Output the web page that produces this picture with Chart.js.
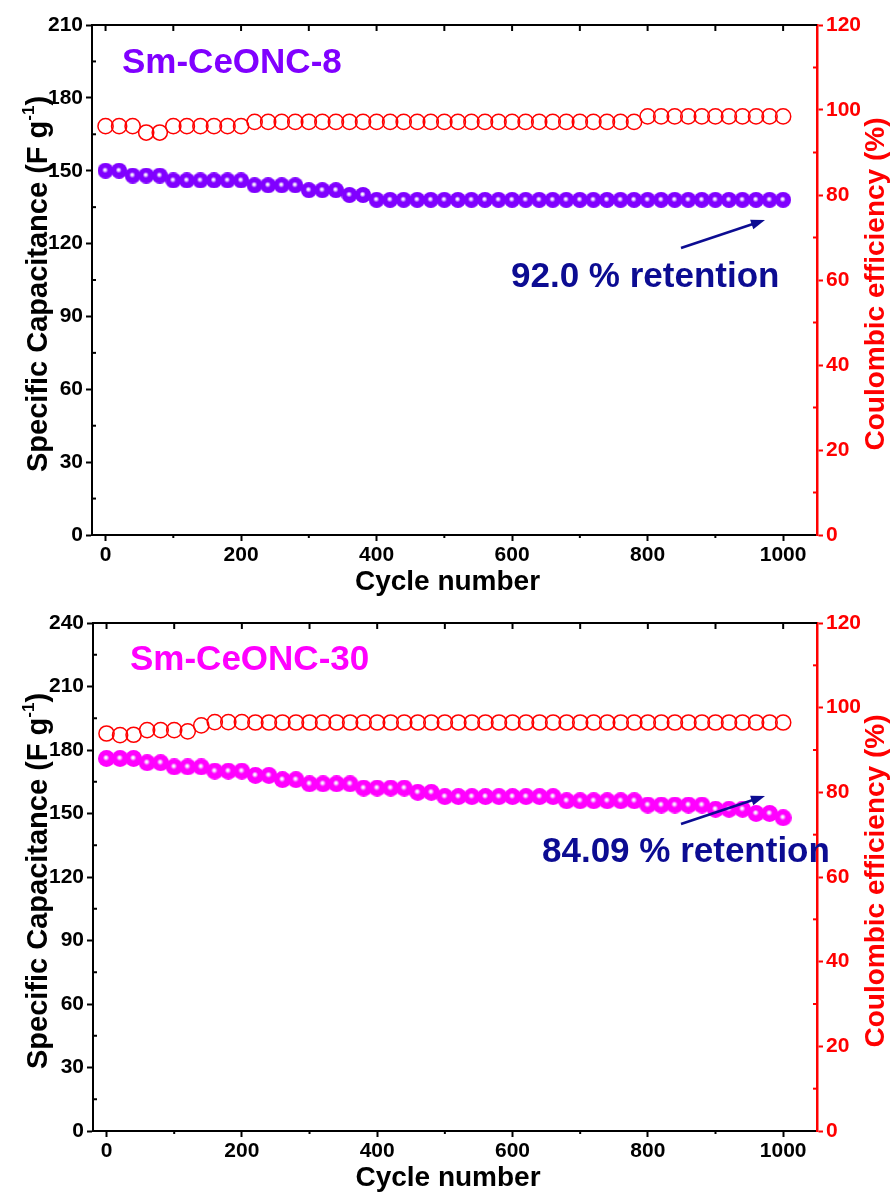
<!DOCTYPE html>
<html>
<head>
<meta charset="utf-8">
<script src="https://cdn.jsdelivr.net/npm/chart.js@4.4.1/dist/chart.umd.min.js"></script>
<style>
  html, body { margin: 0; padding: 0; background: #fff; }
  .panel { position: absolute; left: 0; width: 896px; }
  #p1 { top: 0; height: 596px; }
  #p2 { top: 596px; height: 597px; }
</style>
</head>
<body>
<div class="panel" id="p1"><canvas id="c1" width="896" height="596"></canvas></div>
<div class="panel" id="p2"><canvas id="c2" width="896" height="597"></canvas></div>
<script>
// ciclos (cada 20)
const cycles = [0,20,40,60,80,100,120,140,160,180,200,220,240,260,280,300,320,340,360,380,
  400,420,440,460,480,500,520,540,560,580,600,620,640,660,680,700,720,740,760,780,
  800,820,840,860,880,900,920,940,960,980,1000];

// Sm-CeONC-8
const cap8 = [150,150,148,148,148,146,146,146,146,146,146,144,144,144,144,142,142,142,140,140,
  138,138,138,138,138,138,138,138,138,138,138,138,138,138,138,138,138,138,138,138,
  138,138,138,138,138,138,138,138,138,138,138];
const ce8 = [96.2,96.2,96.2,94.7,94.7,96.2,96.2,96.2,96.2,96.2,96.2,97.2,97.2,97.2,97.2,97.2,97.2,97.2,97.2,97.2,
  97.2,97.2,97.2,97.2,97.2,97.2,97.2,97.2,97.2,97.2,97.2,97.2,97.2,97.2,97.2,97.2,97.2,97.2,97.2,97.2,
  98.5,98.5,98.5,98.5,98.5,98.5,98.5,98.5,98.5,98.5,98.5];

// Sm-CeONC-30
const cap30 = [176,176,176,174,174,172,172,172,170,170,170,168,168,166,166,164,164,164,164,162,
  162,162,162,160,160,158,158,158,158,158,158,158,158,158,156,156,156,156,156,156,
  154,154,154,154,154,152,152,152,150,150,148];
const ce30 = [93.9,93.5,93.6,94.7,94.7,94.7,94.4,95.8,96.6,96.6,96.6,96.5,96.5,96.5,96.5,96.5,96.5,96.5,96.5,96.5,
  96.5,96.5,96.5,96.5,96.5,96.5,96.5,96.5,96.5,96.5,96.5,96.5,96.5,96.5,96.5,96.5,96.5,96.5,96.5,96.5,
  96.5,96.5,96.5,96.5,96.5,96.5,96.5,96.5,96.5,96.5,96.5];

// ticks
const xTicks = [0,200,400,600,800,1000];
const yTicks8 = [0,30,60,90,120,150,180,210];
const yTicks30 = [0,30,60,90,120,150,180,210,240];
const ceTicks = [0,20,40,60,80,100,120];

const FONT = "'Liberation Sans', Arial, sans-serif";
Chart.defaults.font.family = FONT;

function esfera(color, d){
  const c = document.createElement("canvas");
  c.width = d; c.height = d;
  const g = c.getContext("2d");
  const r = d/2;
  const grad = g.createRadialGradient(r*0.92, r*0.88, 0, r, r, r);
  grad.addColorStop(0, "#ffffff");
  grad.addColorStop(0.12, "#f6ecff");
  grad.addColorStop(0.38, color);
  grad.addColorStop(1, color);
  g.fillStyle = grad;
  g.beginPath(); g.arc(r, r, r, 0, Math.PI*2); g.fill();
  return c;
}

function crearGrafica(id, cfg){
  const decor = {
    id: "decor",
    afterDraw(chart){
      const ctx = chart.ctx;
      const a = chart.chartArea;
      const x = chart.scales.x, y = chart.scales.y, y2 = chart.scales.y2;
      ctx.save();
      // marco superior
      ctx.strokeStyle = "#000"; ctx.lineWidth = 2;
      ctx.beginPath(); ctx.moveTo(a.left-1, a.top); ctx.lineTo(a.right, a.top); ctx.stroke();
      // ticks arriba (hacia dentro) y menores abajo
      for(let v=0; v<=1000; v+=100){
        const px = x.getPixelForValue(v);
        ctx.beginPath(); ctx.moveTo(px, a.top); ctx.lineTo(px, a.top+6); ctx.stroke();
        if(v % 200 !== 0){
          ctx.beginPath(); ctx.moveTo(px, a.bottom); ctx.lineTo(px, a.bottom+3); ctx.stroke();
        }
      }
      // menores eje izquierdo
      for(let i=0; i<cfg.yTicks.length-1; i++){
        const py = y.getPixelForValue((cfg.yTicks[i]+cfg.yTicks[i+1])/2);
        ctx.beginPath(); ctx.moveTo(a.left, py); ctx.lineTo(a.left+4, py); ctx.stroke();
      }
      // menores eje derecho
      ctx.strokeStyle = "#ff0000";
      for(let i=0; i<ceTicks.length-1; i++){
        const py = y2.getPixelForValue((ceTicks[i]+ceTicks[i+1])/2);
        ctx.beginPath(); ctx.moveTo(a.right, py); ctx.lineTo(a.right-4, py); ctx.stroke();
      }

      // titulo de la muestra
      ctx.fillStyle = cfg.color;
      ctx.font = "bold 35px " + FONT;
      ctx.textAlign = "left"; ctx.textBaseline = "alphabetic";
      ctx.fillText(cfg.titulo, cfg.tituloPos[0], cfg.tituloPos[1]);

      // retencion + flecha
      const navy = "#0c0c92";
      ctx.fillStyle = navy;
      ctx.font = "bold 35px " + FONT;
      ctx.fillText(cfg.retencion, cfg.retPos[0], cfg.retPos[1]);
      const [x0, y0, x1, y1] = cfg.flecha;
      const ang = Math.atan2(y1-y0, x1-x0);
      ctx.strokeStyle = navy; ctx.lineWidth = 2.5;
      ctx.beginPath(); ctx.moveTo(x0, y0); ctx.lineTo(x1 - 8*Math.cos(ang), y1 - 8*Math.sin(ang)); ctx.stroke();
      ctx.beginPath();
      ctx.moveTo(x1, y1);
      ctx.lineTo(x1 - 14*Math.cos(ang) + 5*Math.sin(ang), y1 - 14*Math.sin(ang) - 5*Math.cos(ang));
      ctx.lineTo(x1 - 14*Math.cos(ang) - 5*Math.sin(ang), y1 - 14*Math.sin(ang) + 5*Math.cos(ang));
      ctx.closePath(); ctx.fill();

      // titulos de ejes
      const mid = (a.top + a.bottom)/2 + 4;
      ctx.fillStyle = "#000";
      ctx.font = "bold 28px " + FONT;
      ctx.textAlign = "center";
      ctx.fillText("Cycle number", (a.left + a.right)/2 - 7, a.bottom + 55);

      // izquierdo con superindice
      ctx.save();
      ctx.translate(47, mid);
      ctx.rotate(-Math.PI/2);
      ctx.textAlign = "left";
      const f1 = "bold 29px " + FONT, f2 = "bold 17px " + FONT;
      ctx.font = f1;
      const t1 = "Specific Capacitance (F g", t3 = ")";
      const w1 = ctx.measureText(t1).width, w3 = ctx.measureText(t3).width;
      ctx.font = f2;
      const w2 = ctx.measureText("-1").width;
      let s = -(w1 + w2 + w3)/2;
      ctx.font = f1; ctx.fillText(t1, s, 0); s += w1;
      ctx.font = f2; ctx.fillText("-1", s, -13); s += w2;
      ctx.font = f1; ctx.fillText(t3, s, 0);
      ctx.restore();

      // derecho
      ctx.save();
      ctx.translate(884, mid);
      ctx.rotate(-Math.PI/2);
      ctx.fillStyle = "#ff0000";
      ctx.font = "bold 28px " + FONT;
      ctx.textAlign = "center";
      ctx.fillText("Coulombic efficiency (%)", 0, 0);
      ctx.restore();

      ctx.restore();
    }
  };

  const tickFont = { size: 21, weight: "bold", family: FONT };
  const plain = v => String(v);

  return new Chart(document.getElementById(id).getContext("2d"), {
    type: "line",
    data: {
      datasets: [
        {
          label: "capacitance",
          data: cycles.map((c,i)=>({x:c, y:cfg.cap[i]})),
          yAxisID: "y",
          showLine: false,
          pointStyle: esfera(cfg.color, cfg.d),
          pointRadius: cfg.d/2
        },
        {
          label: "efficiency",
          data: cycles.map((c,i)=>({x:c, y:cfg.ce[i]})),
          yAxisID: "y2",
          showLine: false,
          pointStyle: "circle",
          pointRadius: 7.6,
          pointBorderWidth: 1.5,
          pointBorderColor: "#ff0000",
          pointBackgroundColor: "rgba(255,255,255,0)"
        }
      ]
    },
    options: {
      responsive: false,
      animation: false,
      events: [],
      layout: { padding: { top: cfg.top, left: 0, right: 0, bottom: 0 } },
      plugins: { legend: { display: false }, tooltip: { enabled: false } },
      scales: {
        x: {
          type: "linear", min: -20, max: 1050,
          afterBuildTicks: sc => { sc.ticks = xTicks.map(v=>({value:v})); },
          afterFit: sc => { sc.height = cfg.xH; },
          ticks: { color: "#000", font: tickFont, padding: 2, maxRotation: 0, callback: plain },
          grid: { drawOnChartArea: false, tickLength: 6, tickWidth: 2, tickColor: "#000" },
          border: { color: "#000", width: 2 }
        },
        y: {
          position: "left", min: 0, max: cfg.yMax,
          afterBuildTicks: sc => { sc.ticks = cfg.yTicks.map(v=>({value:v})); },
          afterFit: sc => { sc.width = cfg.left; },
          ticks: { color: "#000", font: tickFont, padding: 3, callback: plain },
          grid: { drawOnChartArea: false, tickLength: 6, tickWidth: 2, tickColor: "#000" },
          border: { color: "#000", width: 2 }
        },
        y2: {
          position: "right", min: 0, max: 120,
          afterBuildTicks: sc => { sc.ticks = ceTicks.map(v=>({value:v})); },
          afterFit: sc => { sc.width = 79; },
          ticks: { color: "#ff0000", font: tickFont, padding: 3, callback: plain },
          grid: { drawOnChartArea: false, tickLength: 6, tickWidth: 2, tickColor: "#ff0000" },
          border: { color: "#ff0000", width: 2.5 }
        }
      }
    },
    plugins: [decor]
  });
}

crearGrafica("c1", {
  cap: cap8, ce: ce8, color: "#8000ff", d: 16,
  yMax: 210, yTicks: yTicks8, top: 25, left: 92, xH: 61,
  titulo: "Sm-CeONC-8", tituloPos: [122, 73],
  retencion: "92.0 % retention", retPos: [511, 287],
  flecha: [681, 248, 765, 220]
});

crearGrafica("c2", {
  cap: cap30, ce: ce30, color: "#ff00ff", d: 17,
  yMax: 240, yTicks: yTicks30, top: 27, left: 93, xH: 62,
  titulo: "Sm-CeONC-30", tituloPos: [130, 74],
  retencion: "84.09 % retention", retPos: [542, 266],
  flecha: [681, 228, 765, 200]
});
</script>
</body>
</html>
